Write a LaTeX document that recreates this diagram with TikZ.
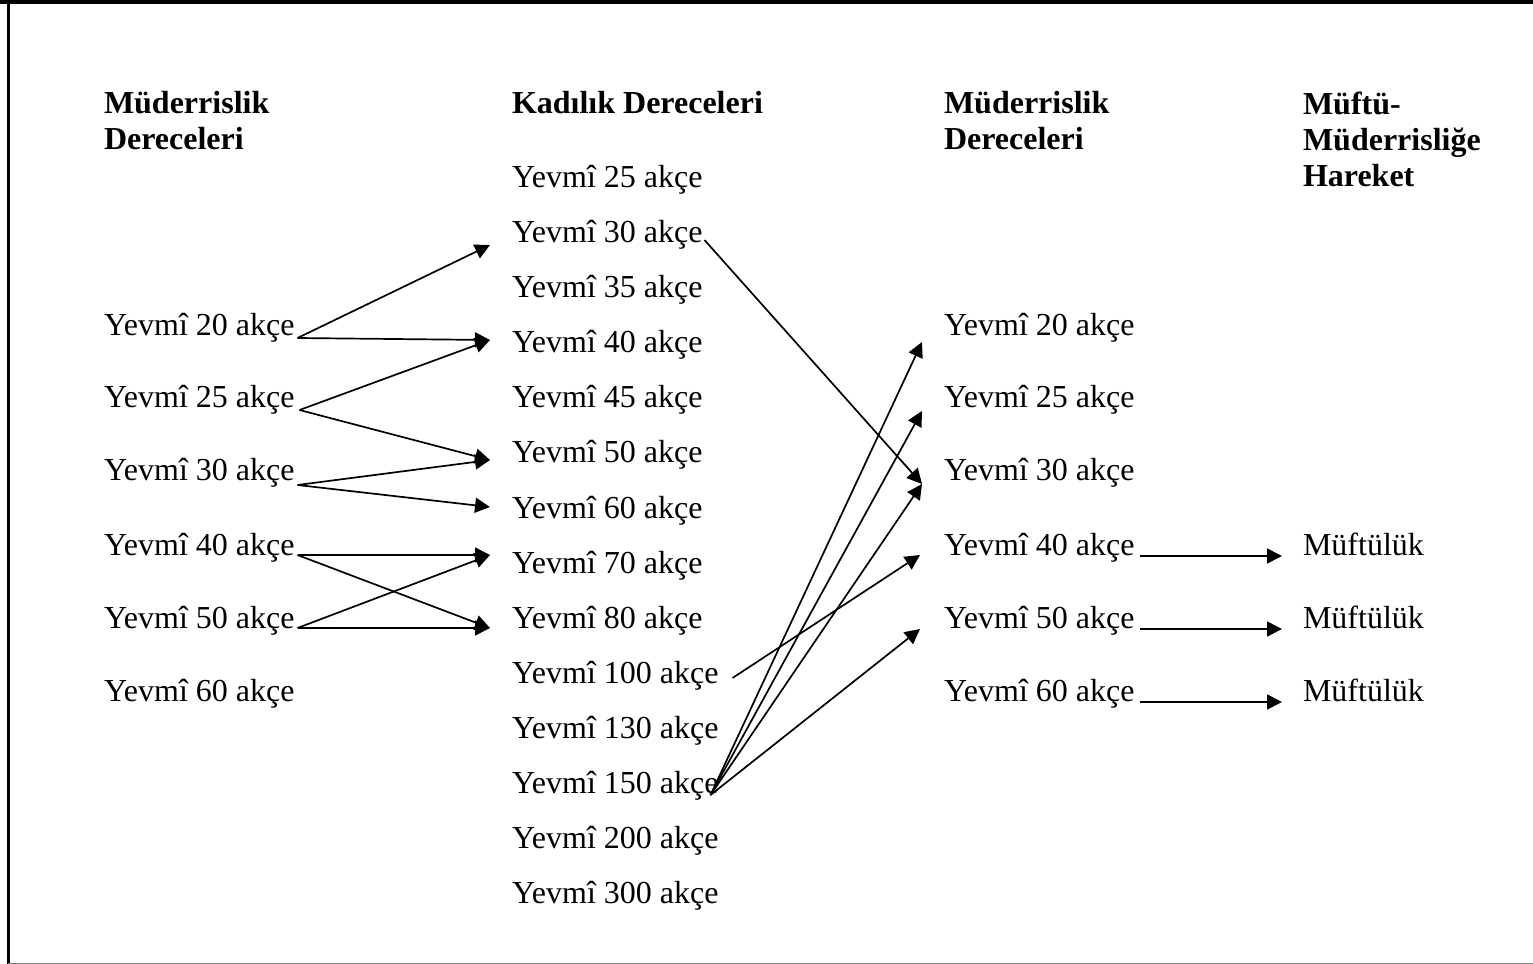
\documentclass[tikz,border=0pt]{standalone}
\usepackage{fontspec}
\setmainfont{Liberation Serif}
\usetikzlibrary{arrows.meta,calc}
\begin{document}
\begin{tikzpicture}[x=0.5pt,y=-0.5pt,
  lbl/.style={anchor=base west,inner sep=0pt,outer sep=0pt,font=\fontsize{16}{18}\selectfont},
  hdr/.style={anchor=base west,inner sep=0pt,outer sep=0pt,align=left,font=\fontsize{16}{18}\selectfont\bfseries},
  arr/.style={line width=0.85pt,-{Triangle[length=7.5pt,width=7.5pt]}}]
\useasboundingbox (0,0) rectangle (1533,964);
% frame
\draw[line width=1.8pt] (0,1.8) -- (1533,1.8);
\draw[line width=1.5pt] (8.5,0) -- (8.5,964);
\draw[line width=0.5pt,gray] (8,963.5) -- (1533,963.5);
% headers (base anchor = last line)
\node[hdr] (H1) at (104,149) {Müderrislik\\Dereceleri};
\node[hdr] (H2) at (512,113) {Kadılık Dereceleri};
\node[hdr] (H3) at (944,149) {Müderrislik\\Dereceleri};
\node[hdr] (H4) at (1303,186) {Müftü-\\Müderrisliğe\\Hareket};
% left column
\node[lbl] (L20) at (104,335) {Yevmî 20 akçe};
\node[lbl] (L25) at (104,407) {Yevmî 25 akçe};
\node[lbl] (L30) at (104,480) {Yevmî 30 akçe};
\node[lbl] (L40) at (104,555) {Yevmî 40 akçe};
\node[lbl] (L50) at (104,628) {Yevmî 50 akçe};
\node[lbl] (L60) at (104,701) {Yevmî 60 akçe};
% kadilik column
\node[lbl] (K25) at (512,187) {Yevmî 25 akçe};
\node[lbl] (K30) at (512,242) {Yevmî 30 akçe};
\node[lbl] (K35) at (512,297) {Yevmî 35 akçe};
\node[lbl] (K40) at (512,352) {Yevmî 40 akçe};
\node[lbl] (K45) at (512,407) {Yevmî 45 akçe};
\node[lbl] (K50) at (512,462) {Yevmî 50 akçe};
\node[lbl] (K60) at (512,518) {Yevmî 60 akçe};
\node[lbl] (K70) at (512,573) {Yevmî 70 akçe};
\node[lbl] (K80) at (512,628) {Yevmî 80 akçe};
\node[lbl] (K100) at (512,683) {Yevmî 100 akçe};
\node[lbl] (K130) at (512,738) {Yevmî 130 akçe};
\node[lbl] (K150) at (512,793) {Yevmî 150 akçe};
\node[lbl] (K200) at (512,848) {Yevmî 200 akçe};
\node[lbl] (K300) at (512,903) {Yevmî 300 akçe};
% third column
\node[lbl] (M20) at (944,335) {Yevmî 20 akçe};
\node[lbl] (M25) at (944,407) {Yevmî 25 akçe};
\node[lbl] (M30) at (944,480) {Yevmî 30 akçe};
\node[lbl] (M40) at (944,555) {Yevmî 40 akçe};
\node[lbl] (M50) at (944,628) {Yevmî 50 akçe};
\node[lbl] (M60) at (944,701) {Yevmî 60 akçe};
% fourth column
\node[lbl] (F40) at (1303,555) {Müftülük};
\node[lbl] (F50) at (1303,628) {Müftülük};
\node[lbl] (F60) at (1303,701) {Müftülük};
% left -> kadilik
\draw[arr] ($(L20.base east)+(3,3)$) -- ($(K30.base west)+(-22,3)$);
\draw[arr] ($(L20.base east)+(3,3)$) -- ($(K40.base west)+(-22,-12)$);
\draw[arr] ($(L25.base east)+(5,3)$) -- ($(K40.base west)+(-22,-12)$);
\draw[arr] ($(L25.base east)+(5,3)$) -- ($(K50.base west)+(-22,-2)$);
\draw[arr] ($(L30.base east)+(3,5)$) -- ($(K50.base west)+(-22,-2)$);
\draw[arr] ($(L30.base east)+(3,5)$) -- ($(K60.base west)+(-22,-11)$);
\draw[arr] ($(L40.base east)+(3,0)$) -- ($(K70.base west)+(-22,-18)$);
\draw[arr] ($(L40.base east)+(3,0)$) -- ($(K80.base west)+(-22,0)$);
\draw[arr] ($(L50.base east)+(3,0)$) -- ($(K70.base west)+(-22,-18)$);
\draw[arr] ($(L50.base east)+(3,0)$) -- ($(K80.base west)+(-22,0)$);
% kadilik -> muderrislik
\draw[arr] ($(K30.base east)+(2,-2)$) -- ($(M30.base west)+(-22,4)$);
\draw[arr] ($(K100.base east)+(14,-5)$) -- ($(M40.base west)+(-24,0)$);
\draw[arr] ($(K150.base east)+(-8,2)$) -- ($(M20.base west)+(-22,7)$);
\draw[arr] ($(K150.base east)+(-8,2)$) -- ($(M25.base west)+(-22,4)$);
\draw[arr] ($(K150.base east)+(-8,2)$) -- ($(M30.base west)+(-22,4)$);
\draw[arr] ($(K150.base east)+(-8,2)$) -- ($(M50.base west)+(-24,1)$);
% muderrislik -> muftuluk
\draw[arr] ($(M40.base east)+(5,1)$) -- ($(F40.base west)+(-21,1)$);
\draw[arr] ($(M50.base east)+(5,1)$) -- ($(F50.base west)+(-21,1)$);
\draw[arr] ($(M60.base east)+(5,1)$) -- ($(F60.base west)+(-21,1)$);
\end{tikzpicture}
\end{document}
